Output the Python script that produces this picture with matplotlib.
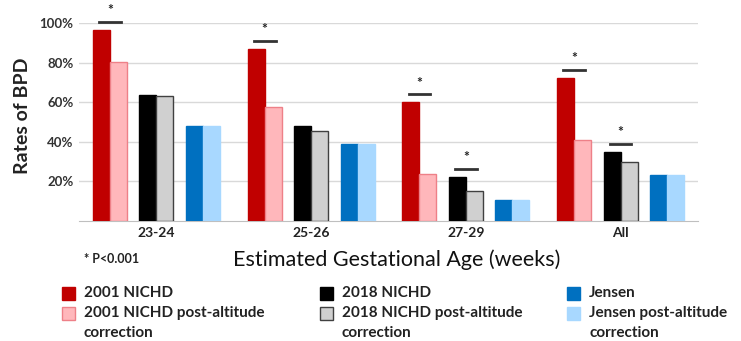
import matplotlib
matplotlib.use("Agg")
import matplotlib.pyplot as plt
import numpy as np
from matplotlib.patches import Rectangle

plt.rcParams['font.family'] = ['Lato', 'DejaVu Sans']

# data
ages = ['23-24', '25-26', '27-29', 'All']
nichd_2001 = [96.6, 87.0, 60.0, 72.3]
nichd_2001_alt = [80.5, 57.5, 24.0, 40.8]
nichd_2018 = [63.7, 48.0, 22.4, 35.0]
nichd_2018_alt = [63.2, 45.4, 15.0, 29.7]
jensen = [48.0, 38.8, 10.6, 23.3]
jensen_alt = [48.0, 38.8, 10.6, 23.3]

series_labels = ['2001 NICHD', '2001 NICHD post-altitude\ncorrection',
                 '2018 NICHD', '2018 NICHD post-altitude\ncorrection',
                 'Jensen', 'Jensen post-altitude\ncorrection']
yticks = [20, 40, 60, 80, 100]

# significant pairs: (age index, pair index) where pair 0 = 2001 NICHD, 1 = 2018 NICHD
sig_pairs = [(0, 0), (1, 0), (2, 0), (2, 1), (3, 0), (3, 1)]

series = [nichd_2001, nichd_2001_alt, nichd_2018, nichd_2018_alt, jensen, jensen_alt]
faces = ['#C00000', '#FFB7BB', '#000000', '#D0D0D0', '#0070C0', '#A8D8FF']
edges = ['#C00000', '#EE8088', '#000000', '#404040', '#0070C0', '#A8D8FF']

fig = plt.figure(figsize=(7.41, 3.41), dpi=100)
ax = fig.add_axes([0.1066, 0.352, 0.8354, 0.5797])

x = np.arange(len(ages))
w = 0.11
pair_off = [-0.30, 0.0, 0.30]
for i, vals in enumerate(series):
    off = pair_off[i // 2] + (w / 2 if i % 2 else -w / 2)
    ax.bar(x + off, vals, width=w, color=faces[i], edgecolor=edges[i],
           linewidth=1.0, zorder=3)

# significance bars with asterisks
for g, p in sig_pairs:
    top = max(series[2 * p][g], series[2 * p + 1][g])
    cx = g + pair_off[p]
    ax.plot([cx - 0.07, cx + 0.07], [top + 4, top + 4], color='#333333',
            lw=2, clip_on=False, zorder=4)
    ax.text(cx, top + 10, '*', ha='center', va='center', fontsize=10,
            fontweight='bold', color='#222222')

ax.set_xlim(-0.5, 3.5)
ax.set_ylim(0, 100)
ax.set_yticks(yticks)
ax.set_yticklabels([f'{v}%' for v in yticks], fontsize=9.5, fontweight='bold',
                   color='#333333')
ax.set_xticks(x)
ax.set_xticklabels(ages, fontsize=10, fontweight='bold', color='#222222')
ax.tick_params(length=0, pad=4)
ax.grid(axis='y', color='#D9D9D9', lw=1, zorder=0)
for s in ['left', 'right', 'top']:
    ax.spines[s].set_visible(False)
ax.spines['bottom'].set_color('#BFBFBF')
ax.set_ylabel('Rates of BPD', fontsize=14, fontweight='bold', color='#222222')
ax.yaxis.set_label_coords(-0.077, 0.53)

fig.text(397 / 741, 1 - 260 / 341, 'Estimated Gestational Age (weeks)',
         ha='center', va='center', fontsize=15.5, color='#111111')
fig.text(84 / 741, 1 - 259 / 341, '* P<0.001', ha='left', va='center',
         fontsize=9, fontweight='bold', color='#222222')

# legend: three columns, two entries each
col_x = [62, 320, 567]
row_y = [293, 313]
for i, lab in enumerate(series_labels):
    cx0 = col_x[i // 2]
    cy = row_y[i % 2]
    fig.patches.append(Rectangle((cx0 / 741, 1 - (cy + 7) / 341), 13 / 741, 13 / 341,
                                 transform=fig.transFigure, facecolor=faces[i],
                                 edgecolor=edges[i], lw=1.0))
    for k, line in enumerate(lab.split('\n')):
        fig.text((cx0 + 22) / 741, 1 - (cy + 20 * k) / 341, line, ha='left',
                 va='center', fontsize=11, fontweight='bold', color='#222222')

fig.savefig('out.png', dpi=100)
